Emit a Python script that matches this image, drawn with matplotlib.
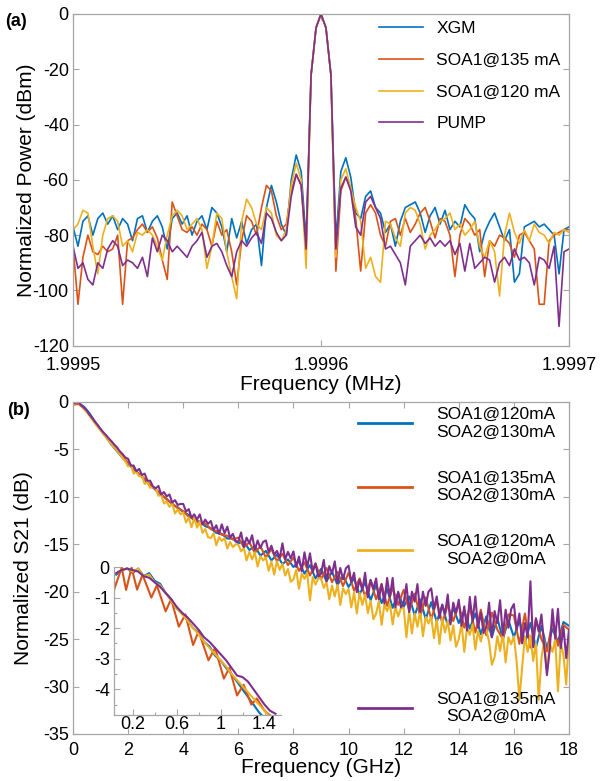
"""
Two-panel figure:
  (a) normalized RF spectra around the 1.9996 MHz tone (XGM / SOA1 / pump)
  (b) normalized S21 of the cascaded SOAs, with a 0-1.5 GHz zoom inset
"""

import numpy as np
import matplotlib.pyplot as plt
from matplotlib.ticker import FixedLocator, MultipleLocator

plt.rcParams["font.family"] = ["Liberation Sans", "DejaVu Sans"]
plt.rcParams["axes.unicode_minus"] = False

# MATLAB default line colours
BLUE, RED, YELLOW, PURPLE = "#0072BD", "#D95319", "#EDB120", "#7E2F8E"
GREY = "#a6a6a6"

# ----------------------------------------------------------------------
# (a) spectra, 1.9995 .. 1.9997 MHz, 2 Hz step
# ----------------------------------------------------------------------
freq_a = np.linspace(1.9995, 1.9997, 101)
labels_a = ["XGM", "SOA1@135 mA", "SOA1@120 mA", "PUMP"]

xgm = [
    -77, -84, -75, -73, -80, -74, -72, -76, -73, -78,
    -74, -76, -82, -74, -73, -79, -75, -73, -77, -85,
    -74, -72, -76, -73, -80, -75, -73, -78, -70, -72,
    -77, -86, -74, -81, -75, -83, -78, -76, -91, -70,
    -62, -68, -76,
    -80, -60, -51, -57, -82, -22, -5, 0, -5, -22, -82, -57, -52, -59, -72,
    -74, -66, -64, -70, -72, -79, -76, -84, -75, -70,
    -69, -68, -72, -79, -73, -70, -76, -71, -78, -75,
    -77, -69, -72, -74, -86, -79, -75, -72, -77, -82,
    -78, -97, -94, -77, -76, -75, -77, -76, -78, -80,
    -94, -78, -77,
]
soa1_135 = [
    -84, -105, -88, -80, -86, -87, -84, -86, -85, -80,
    -105, -82, -81, -78, -76, -79, -77, -81, -89, -96,
    -68, -73, -78, -79, -77, -80, -76, -78, -84, -75,
    -80, -78, -86, -98, -82, -73, -75, -80, -70, -62,
    -64, -73, -78,
    -76, -64, -58, -62, -84, -22, -5, 0, -5, -22, -93, -64, -59, -63, -74,
    -93, -72, -69, -72, -80, -84, -75, -74, -80, -74,
    -79, -76, -72, -70, -75, -81, -74, -75, -80, -95,
    -80, -74, -76, -80, -78, -95, -82, -84, -80, -81,
    -83, -88, -80, -79, -82, -85, -105, -105, -82, -80,
    -79, -78, -78,
]
soa1_120 = [
    -78, -76, -71, -72, -84, -94, -80, -74, -73, -75,
    -84, -82, -86, -79, -80, -78, -80, -84, -89, -80,
    -73, -71, -73, -78, -76, -74, -78, -92, -84, -72,
    -74, -86, -95, -103, -75, -67, -70, -76, -78, -70,
    -72, -80, -82,
    -78, -62, -54, -60, -92, -22, -5, 0, -5, -22, -88, -60, -56, -63, -70,
    -75, -92, -88, -95, -97, -75, -76, -81, -84, -72,
    -70, -71, -76, -85, -80, -78, -75, -74, -72, -78,
    -76, -80, -78, -75, -84, -88, -82, -86, -102, -80,
    -72, -79, -83, -78, -82, -76, -79, -80, -83, -79,
    -80, -78, -79,
]
pump = [
    -84, -92, -90, -96, -98, -90, -92, -85, -82, -84,
    -91, -89, -90, -92, -88, -95, -81, -86, -80, -82,
    -86, -84, -86, -88, -84, -82, -79, -88, -84, -83,
    -86, -91, -95, -86, -82, -84, -81, -79, -83, -72,
    -74, -79, -82,
    -80, -66, -58, -62, -85, -22, -5, 0, -5, -22, -85, -63, -59, -64, -77,
    -80, -68, -66, -70, -74, -85, -84, -87, -90, -98,
    -84, -82, -80, -83, -81, -84, -82, -84, -82, -87,
    -83, -93, -83, -92, -90, -88, -89, -97, -90, -88,
    -91, -85, -89, -88, -90, -98, -88, -89, -92, -84,
    -113, -86, -85,
]

# ----------------------------------------------------------------------
# (b) S21, 0 .. 18 GHz
# ----------------------------------------------------------------------
freq_b_fine = np.linspace(0, 18, 181)    # 0.1 GHz step
freq_b_coarse = np.linspace(0, 18, 91)   # 0.2 GHz step
labels_b = [
    "SOA1@120mA\nSOA2@130mA",
    "SOA1@135mA\nSOA2@130mA",
    "SOA1@120mA\nSOA2@0mA",
    "SOA1@135mA\nSOA2@0mA",
]

s21_120_130 = [
    -0.2, -0.1, -0.5, -1.2, -2.1, -2.9, -3.7, -4.5, -5.2, -5.9,
    -6.5, -7.1, -7.6, -8.2, -8.8, -9.2, -9.8, -10.2, -10.8, -11.1,
    -11.6, -11.9, -12.5, -12.6, -13.1, -13.3, -13.8, -13.9, -14.4, -14.4,
    -14.9, -14.7, -15.6, -15.2, -16.2, -15.7, -16.7, -16.1, -17.1, -16.6,
    -17.4, -16.8, -18.1, -17.2, -18.6, -17.6, -18.9, -17.9, -19.3, -18.3,
    -19.5, -18.6, -20.3, -19.0, -20.9, -19.3, -21.2, -19.7, -21.7, -20.1,
    -21.6, -20.5, -22.5, -20.8, -22.9, -21.1, -23.2, -21.4, -23.6, -21.7,
    -23.3, -22.0, -23.9, -22.3, -24.5, -22.6, -24.8, -22.8, -25.0, -23.0,
    -24.8, -23.0, -25.4, -23.3, -25.9, -23.6, -26.0, -23.9, -25.3, -23.2,
    -23.6,
]
s21_135_130 = [
    -0.3, -0.2, -0.7, -1.4, -2.2, -2.9, -3.7, -4.4, -5.1, -5.8,
    -6.4, -7.0, -7.6, -8.1, -8.7, -9.3, -9.7, -10.3, -10.7, -11.2,
    -11.5, -12.1, -12.3, -12.9, -12.8, -13.4, -13.6, -14.0, -14.1, -14.5,
    -14.3, -15.3, -14.8, -15.9, -15.2, -16.4, -15.5, -16.8, -16.0, -17.2,
    -16.4, -17.8, -16.9, -18.3, -17.0, -18.7, -17.5, -19.0, -17.9, -19.4,
    -18.0, -19.9, -18.6, -20.5, -18.8, -20.8, -19.2, -21.5, -19.6, -21.4,
    -19.8, -22.0, -20.2, -22.6, -20.6, -22.9, -21.0, -23.3, -21.4, -23.1,
    -21.3, -23.8, -21.6, -24.3, -21.9, -24.6, -22.2, -24.0, -25.0, -22.4,
    -22.5, -25.5, -22.3, -25.9, -22.9, -25.0, -26.3, -23.1, -25.7, -23.5,
    -24.0,
]
s21_120_0 = [
    -0.3, -0.1, -0.05, -0.4, -0.7, -1.05, -1.45, -1.85, -2.25, -2.65,
    -3.0, -3.4, -3.7, -4.1, -4.45, -4.8, -5.15, -5.5, -5.9, -6.25,
    -6.8, -6.6, -7.55, -7.35, -7.85, -7.75, -8.65, -8.45, -9.05, -8.95,
    -9.1, -9.9, -9.8, -10.7, -10.5, -11.05, -10.7, -11.75, -11.35, -11.85,
    -11.65, -12.7, -12.2, -13.2, -12.25, -13.25, -12.6, -13.8, -13.4, -14.25,
    -14.35, -13.85, -15.1, -14.25, -14.65, -14.35, -15.45, -14.75, -15.3, -15.0,
    -15.05, -15.75, -15.4, -16.7, -15.8, -16.6, -15.85, -17.35, -16.25, -16.7,
    -16.4, -17.8, -16.8, -18.2, -16.8, -17.7, -17.05, -18.3, -17.6, -18.95,
    -18.7, -17.7, -19.7, -18.1, -18.65, -18.05, -20.9, -18.45, -19.25, -18.6,
    -18.6, -19.6, -19.0, -20.8, -19.35, -20.5, -19.25, -21.4, -19.65, -20.25,
    -19.7, -21.65, -20.1, -22.3, -20.1, -21.4, -20.3, -22.25, -20.95, -22.9,
    -22.3, -21.0, -23.5, -21.35, -22.05, -21.25, -23.45, -21.6, -22.6, -21.75,
    -21.7, -24.8, -22.0, -24.4, -22.3, -23.7, -22.05, -24.7, -22.65, -23.35,
    -22.65, -24.9, -22.95, -25.5, -22.8, -24.3, -23.05, -25.15, -23.55, -25.8,
    -25.0, -23.4, -26.35, -23.8, -24.55, -23.45, -26.1, -24.15, -25.25, -24.0,
    -23.95, -25.3, -27.7, -26.9, -24.7, -26.25, -24.35, -27.45, -24.8, -25.55,
    -24.7, -27.35, -31.4, -27.95, -24.7, -26.35, -24.6, -27.3, -25.4, -31.4,
    -27.05, -25.05, -28.55, -25.45, -26.35, -25.05, -30.5, -25.4, -26.7, -29.8,
    -24.5,
]
s21_135_0 = [
    -0.2, -0.05, -0.05, -0.35, -0.6, -0.9, -1.35, -1.7, -2.1, -2.45,
    -2.85, -3.2, -3.5, -3.85, -4.15, -4.5, -4.8, -5.2, -5.5, -5.85,
    -6.0, -6.7, -6.7, -7.3, -7.05, -7.7, -7.55, -8.3, -8.3, -8.9,
    -9.1, -8.85, -9.75, -9.5, -9.95, -9.75, -10.6, -10.35, -10.85, -10.75,
    -10.75, -11.55, -11.3, -12.2, -11.85, -12.4, -11.85, -12.9, -12.4, -12.85,
    -12.55, -13.5, -13.0, -13.9, -12.9, -13.85, -13.15, -14.3, -13.9, -14.7,
    -14.7, -13.75, -15.3, -14.3, -14.9, -14.05, -15.6, -14.6, -15.4, -14.75,
    -14.6, -15.8, -15.15, -16.1, -15.7, -16.45, -14.9, -16.6, -15.8, -16.5,
    -15.75, -17.4, -16.3, -17.85, -15.85, -17.4, -15.95, -17.95, -17.05, -18.4,
    -18.1, -16.65, -18.9, -17.3, -18.1, -16.8, -19.1, -17.5, -18.7, -17.55,
    -17.25, -19.0, -18.0, -20.05, -18.75, -19.85, -18.0, -20.6, -18.75, -19.7,
    -18.6, -20.8, -19.2, -21.25, -18.55, -20.55, -18.55, -21.65, -20.0, -21.65,
    -21.2, -19.2, -22.15, -20.0, -21.05, -19.2, -22.15, -20.0, -21.5, -20.0,
    -19.65, -21.8, -20.5, -22.75, -21.35, -22.4, -20.3, -23.45, -21.15, -22.25,
    -20.85, -23.6, -21.55, -24.1, -20.55, -23.1, -20.5, -23.8, -22.2, -24.35,
    -23.7, -21.15, -24.8, -22.05, -23.3, -20.9, -24.6, -21.9, -23.8, -21.85,
    -21.3, -24.0, -22.3, -25.45, -23.3, -24.8, -18.9, -25.85, -22.8, -24.2,
    -22.4, -25.7, -28.8, -26.15, -21.85, -24.95, -21.8, -25.95, -23.75, -27.0,
    -24.0,
]

# inset: first 1.5 GHz at finer resolution
freq_in = np.linspace(0.05, 1.5, 30)
in_120_130 = [
    -0.25, -0.1, -0.05, -0.2, -0.05, -0.3, -0.2, -0.45, -0.55, -0.85,
    -1.05, -1.35, -1.5, -1.75, -2.0, -2.15, -2.45, -2.6, -2.9, -3.05,
    -3.3, -3.5, -3.75, -4.0, -4.25, -4.5, -4.75, -4.95, -5.1, -5.2,
]
in_120_0 = [
    -0.2, -0.1, -0.05, -0.15, -0.05, -0.3, -0.25, -0.5, -0.6, -0.85,
    -1.1, -1.35, -1.55, -1.75, -2.0, -2.2, -2.45, -2.65, -2.85, -3.05,
    -3.25, -3.5, -3.7, -3.9, -4.1, -4.3, -4.5, -4.7, -4.9, -5.0,
]
in_135_0 = [
    -0.2, -0.1, -0.05, -0.1, -0.15, -0.3, -0.35, -0.5, -0.65, -0.85,
    -1.05, -1.3, -1.5, -1.65, -1.85, -2.05, -2.3, -2.45, -2.65, -2.85,
    -3.05, -3.3, -3.55, -3.6, -3.75, -4.0, -4.25, -4.5, -4.7, -4.8,
]
freq_in_135_130 = [
    0.03, 0.10, 0.14, 0.19, 0.24, 0.29, 0.37, 0.42, 0.50, 0.55,
    0.62, 0.68, 0.75, 0.80, 0.89, 0.95, 1.03, 1.08, 1.15, 1.21,
    1.28, 1.33, 1.40, 1.45, 1.50,
]
in_135_130 = [
    -0.75, -0.02, -0.75, -0.02, -0.74, -0.25, -1.0, -0.6, -1.45, -1.05,
    -1.95, -1.55, -2.55, -2.1, -3.05, -2.65, -3.65, -3.3, -4.2, -3.85,
    -4.5, -4.3, -4.7, -4.85, -5.0,
]


def style_axes(ax, box=True, xpad=6):
    for side, s in ax.spines.items():
        s.set_color(GREY)
        s.set_linewidth(0.9)
        if not box and side in ("top", "right"):
            s.set_visible(False)
    ax.tick_params(which="both", direction="in", color=GREY, width=0.8,
                   labelsize=13, top=box, right=box)
    ax.tick_params(which="major", length=4)
    ax.tick_params(which="minor", length=2.5)
    ax.tick_params(axis="x", pad=xpad)
    ax.tick_params(axis="y", pad=3)


def main():
    fig = plt.figure(figsize=(6.09, 7.81), dpi=100)

    # ---------------- (a)
    ax = fig.add_axes([0.1199, 0.5573, 0.8144, 0.4248])
    for ys, c, lab in zip([xgm, soa1_135, soa1_120, pump],
                          [BLUE, RED, YELLOW, PURPLE], labels_a):
        ax.plot(freq_a, ys, color=c, lw=1.2, label=lab)
    ax.set_xlim(1.9995, 1.9997)
    ax.set_ylim(-120, 0)
    ax.set_xticks([1.9995, 1.9996, 1.9997])
    ax.set_xticklabels(["1.9995", "1.9996", "1.9997"])
    ax.set_yticks(np.arange(-120, 1, 20))
    style_axes(ax, xpad=8)
    ax.set_xlabel("Frequency (MHz)", fontsize=15)
    ax.set_ylabel("Normalized Power (dBm)", fontsize=15)
    ax.xaxis.set_label_coords(0.5, -0.088)
    ax.yaxis.set_label_coords(-0.075, 0.5)
    ax.xaxis.label.set_va("top")
    ax.legend(loc="upper left", bbox_to_anchor=(0.617, 0.978), frameon=False,
              fontsize=12.5, handlelength=2.55, handletextpad=0.75,
              labelspacing=0.95, borderpad=0, borderaxespad=0)
    fig.text(0.027, 0.972, "(a)", fontsize=13, fontweight="bold",
             ha="center", va="center")

    # ---------------- (b)
    bx = fig.add_axes([0.1199, 0.0602, 0.8144, 0.4251])
    lines = []
    for fx, ys, c in zip([freq_b_coarse, freq_b_coarse, freq_b_fine, freq_b_fine],
                         [s21_120_130, s21_135_130, s21_120_0, s21_135_0],
                         [BLUE, RED, YELLOW, PURPLE]):
        lines += bx.plot(fx, ys, color=c, lw=1.5)
    bx.set_xlim(0, 18)
    bx.set_ylim(-35, 0)
    bx.set_xticks(np.arange(0, 19, 2))
    bx.set_yticks(np.arange(-35, 1, 5))
    style_axes(bx)
    bx.set_xlabel("Frequency (GHz)", fontsize=15)
    bx.set_ylabel("Normalized S21 (dB)", fontsize=15)
    bx.xaxis.set_label_coords(0.5, -0.072)
    bx.yaxis.set_label_coords(-0.08, 0.5)
    bx.xaxis.label.set_va("top")

    leg_kw = dict(frameon=False, fontsize=12.5, handlelength=3.1,
                  handletextpad=1.4, borderpad=0, borderaxespad=0)
    leg1 = bx.legend(lines[:3], labels_b[:3], loc="upper left",
                     bbox_to_anchor=(0.575, 0.985), labelspacing=1.8, **leg_kw)
    leg2 = bx.legend(lines[3:], labels_b[3:], loc="upper left",
                     bbox_to_anchor=(0.575, 0.128), **leg_kw)
    bx.add_artist(leg1)
    for leg in (leg1, leg2):
        for t in leg.get_texts():
            t.set_multialignment("center")
        for h in leg.get_lines():
            h.set_linewidth(2.0)
    fig.text(0.03, 0.475, "(b)", fontsize=13, fontweight="bold",
             ha="center", va="center")

    # ---------------- inset
    ix = fig.add_axes([0.1872, 0.0845, 0.2742, 0.1895])
    ix.plot(freq_in, in_120_130, color=BLUE, lw=1.5)
    ix.plot(freq_in_135_130, in_135_130, color=RED, lw=1.5)
    ix.plot(freq_in, in_120_0, color=YELLOW, lw=1.5)
    ix.plot(freq_in, in_135_0, color=PURPLE, lw=1.5)
    ix.set_xlim(0.03, 1.55)
    ix.set_ylim(-4.84, 0)
    ix.xaxis.set_major_locator(FixedLocator([0.2, 0.6, 1.0, 1.4]))
    ix.xaxis.set_minor_locator(FixedLocator([0.4, 0.8, 1.2]))
    ix.set_xticklabels(["0.2", "0.6", "1", "1.4"])
    ix.yaxis.set_major_locator(FixedLocator([0, -1, -2, -3, -4]))
    ix.yaxis.set_minor_locator(MultipleLocator(0.5))
    style_axes(ix, box=False, xpad=1)
    ix.patch.set_alpha(0)

    fig.savefig("out.png", dpi=100)
    plt.close(fig)


if __name__ == "__main__":
    main()
